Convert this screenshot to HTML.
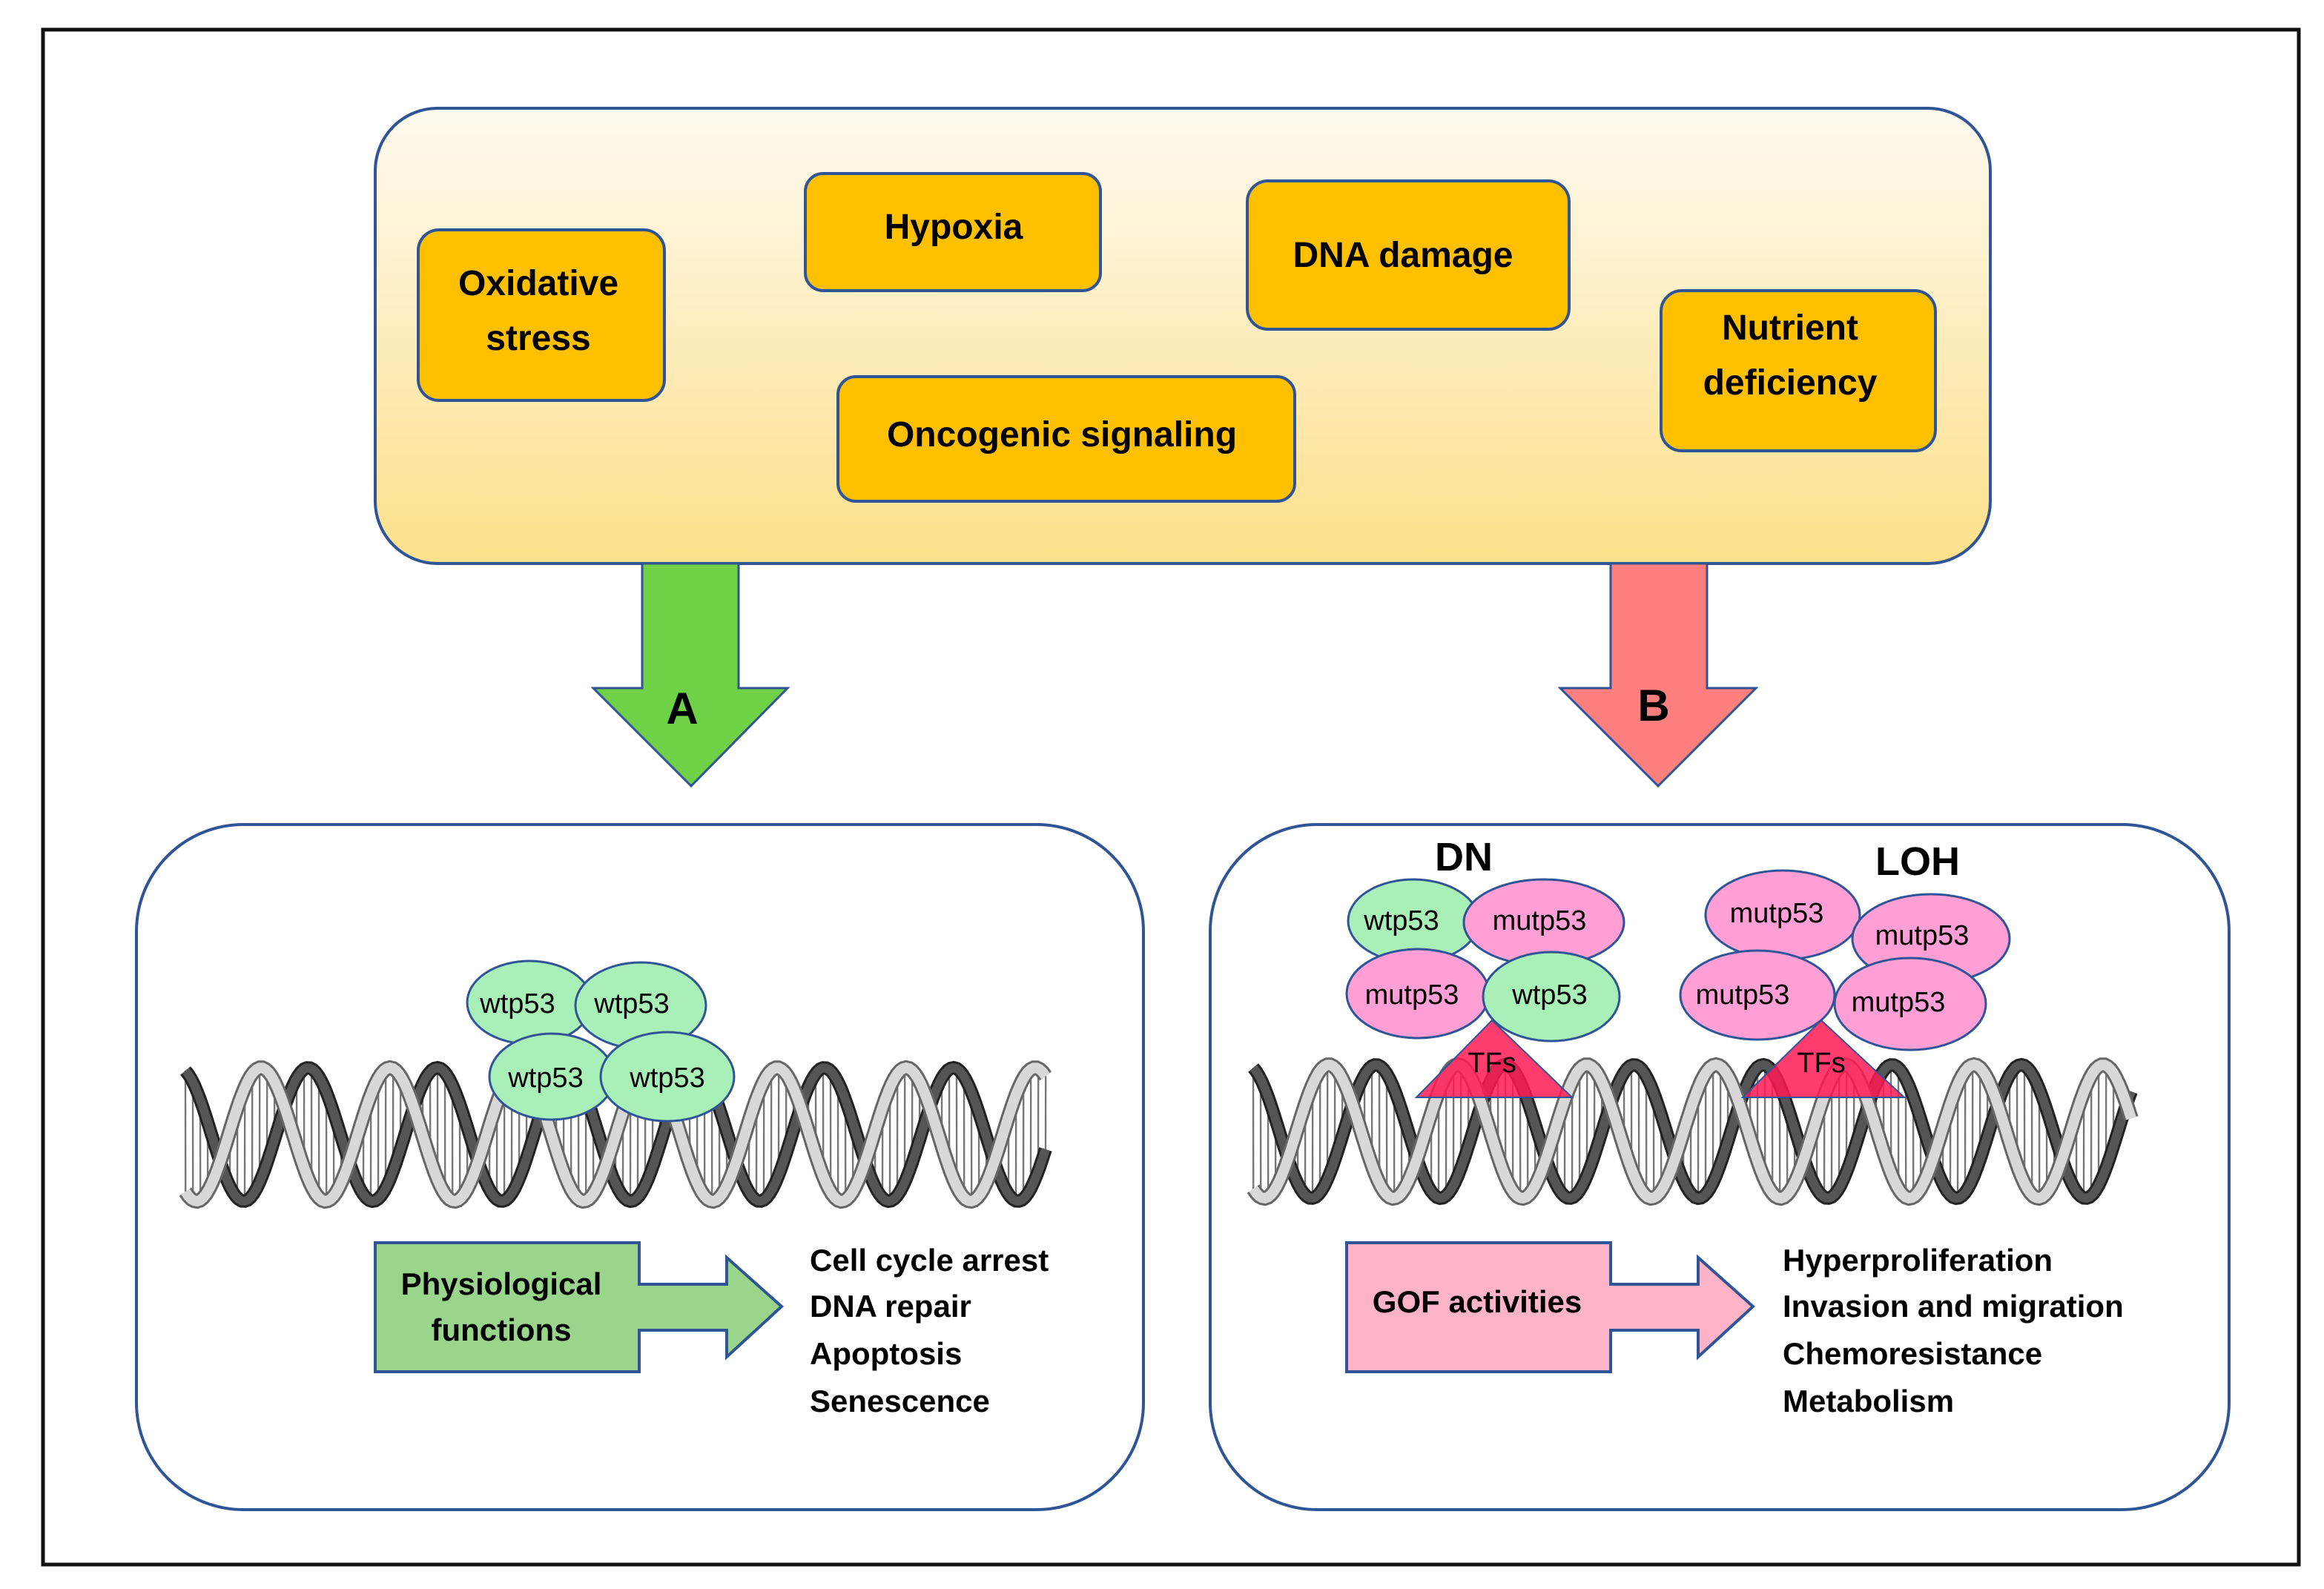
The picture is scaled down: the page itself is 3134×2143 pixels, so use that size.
<!DOCTYPE html>
<html><head><meta charset="utf-8">
<style>
html,body{margin:0;padding:0;background:#fff;}
svg{display:block;}
text{font-family:"Liberation Sans",sans-serif;font-weight:bold;fill:#000;}
.e{font-weight:normal;font-size:19px;}
</style></head>
<body>
<svg id="s" width="3134" height="2143" viewBox="0 0 1567 1071.5" xmlns="http://www.w3.org/2000/svg">
<defs>
<linearGradient id="g" x1="0" y1="0" x2="0" y2="1">
<stop offset="0" stop-color="#fffaf0"/><stop offset="1" stop-color="#fde08a"/>
</linearGradient>
</defs>
<rect x="0" y="0" width="1567" height="1072" fill="#fff"/>
<rect x="29" y="20" width="1521" height="1035" fill="none" stroke="#111" stroke-width="2.5"/>

<rect x="253" y="73" width="1089" height="307" rx="42" fill="url(#g)" stroke="#2f5597" stroke-width="2"/>
<g fill="#ffc000" stroke="#2f5597" stroke-width="2">
<rect x="282" y="155" width="166" height="115" rx="14"/>
<rect x="543" y="117" width="199" height="79" rx="12"/>
<rect x="841" y="122" width="217" height="100" rx="14"/>
<rect x="565" y="254" width="308" height="84" rx="12"/>
<rect x="1120" y="196" width="185" height="108" rx="14"/>
</g>
<g font-size="24" text-anchor="middle">
<text x="363" y="199">Oxidative</text><text x="363" y="236">stress</text>
<text x="643" y="161">Hypoxia</text>
<text x="946" y="180">DNA damage</text>
<text x="716" y="301">Oncogenic signaling</text>
<text x="1207" y="229">Nutrient</text><text x="1207" y="266">deficiency</text>
</g>

<polygon points="433,380 498,380 498,464 531,464 466,530 400,464 433,464" fill="#6fd145" stroke="#2f5597" stroke-width="1.5"/>
<polygon points="1086,380 1151,380 1151,464 1184,464 1118,530 1052,464 1086,464" fill="#ff7f7f" stroke="#2f5597" stroke-width="1.5"/>
<text x="460" y="488" font-size="30" text-anchor="middle">A</text>
<text x="1115" y="486" font-size="30" text-anchor="middle">B</text>

<rect x="92" y="556" width="679" height="462" rx="72" fill="#fff" stroke="#2f5597" stroke-width="2"/>
<rect x="816" y="556" width="687" height="462" rx="72" fill="#fff" stroke="#2f5597" stroke-width="2"/>

<g id="h1"></g>
<g id="h2"></g>

<g stroke="#2f5597" stroke-width="1.5">
<ellipse cx="357" cy="676" rx="42" ry="28" fill="#a9efb8"/>
<ellipse cx="432" cy="678" rx="44" ry="29" fill="#a9efb8"/>
<ellipse cx="372" cy="726" rx="42" ry="29" fill="#a9efb8"/>
<ellipse cx="450" cy="726" rx="45" ry="30" fill="#a9efb8"/>
</g>
<g class="e" text-anchor="middle" font-size="19">
<text class="e" x="349" y="683">wtp53</text>
<text class="e" x="426" y="683">wtp53</text>
<text class="e" x="368" y="733">wtp53</text>
<text class="e" x="450" y="733">wtp53</text>
</g>

<polygon points="955,740 1006,688 1060,740" fill="#ff1a55" fill-opacity="0.85" stroke="#2f5597" stroke-width="1"/>
<polygon points="1175,740 1228,688 1284,740" fill="#ff1a55" fill-opacity="0.85" stroke="#2f5597" stroke-width="1"/>
<g stroke="#2f5597" stroke-width="1.5">
<ellipse cx="953" cy="621" rx="44" ry="28" fill="#a9efb8"/>
<ellipse cx="1041" cy="622" rx="54" ry="29" fill="#ff9fd5"/>
<ellipse cx="956" cy="670" rx="48" ry="30" fill="#ff9fd5"/>
<ellipse cx="1046" cy="672" rx="46" ry="30" fill="#a9efb8"/>
<ellipse cx="1202" cy="617" rx="52" ry="30" fill="#ff9fd5"/>
<ellipse cx="1302" cy="633" rx="53" ry="30" fill="#ff9fd5"/>
<ellipse cx="1185" cy="671" rx="52" ry="30" fill="#ff9fd5"/>
<ellipse cx="1288" cy="677" rx="51" ry="31" fill="#ff9fd5"/>
</g>
<g text-anchor="middle">
<text class="e" x="945" y="627">wtp53</text>
<text class="e" x="1038" y="627">mutp53</text>
<text class="e" x="952" y="677">mutp53</text>
<text class="e" x="1045" y="677">wtp53</text>
<text class="e" x="1198" y="622">mutp53</text>
<text class="e" x="1296" y="637">mutp53</text>
<text class="e" x="1175" y="677">mutp53</text>
<text class="e" x="1280" y="682">mutp53</text>
<text class="e" x="1006" y="723">TFs</text>
<text class="e" x="1228" y="723">TFs</text>
<text x="987" y="587" font-size="27">DN</text>
<text x="1293" y="590" font-size="27">LOH</text>
</g>

<polygon points="253,838 431,838 431,866 490,866 490,848 527,881 490,915 490,897 431,897 431,925 253,925" fill="#99d68c" stroke="#2f5597" stroke-width="2"/>
<polygon points="908,838 1086,838 1086,866 1145,866 1145,848 1182,881 1145,915 1145,897 1086,897 1086,925 908,925" fill="#ffb3c6" stroke="#2f5597" stroke-width="2"/>
<g font-size="21">
<text x="338" y="873" text-anchor="middle">Physiological</text>
<text x="338" y="904" text-anchor="middle">functions</text>
<text x="996" y="885" text-anchor="middle">GOF activities</text>
<text x="546" y="857">Cell cycle arrest</text>
<text x="546" y="888">DNA repair</text>
<text x="546" y="920">Apoptosis</text>
<text x="546" y="952">Senescence</text>
<text x="1202" y="857">Hyperproliferation</text>
<text x="1202" y="888">Invasion and migration</text>
<text x="1202" y="920">Chemoresistance</text>
<text x="1202" y="952">Metabolism</text>
</g>
</svg>
<script>
function helix(id,x0,x1,yc,amp,per){
 var g=document.getElementById(id),ns="http://www.w3.org/2000/svg",out="";
 function path(ph){var d="";for(var x=x0;x<=x1;x+=2){var y=yc-amp*Math.cos((x-x0)/per*2*Math.PI+ph);d+=(x==x0?"M":"L")+x+","+y.toFixed(1);}return d;}
 var lines="";
 for(var x=x0;x<=x1;x+=5){var a=yc-amp*Math.cos((x-x0)/per*2*Math.PI+0.3),b=yc-amp*Math.cos((x-x0)/per*2*Math.PI+2.6);lines+="M"+x+","+a.toFixed(1)+"L"+(x+0.1)+","+b.toFixed(1);}
 out+='<path d="'+lines+'" stroke="#777" stroke-width="1.2" fill="none"/>';
 out+='<path d="'+path(0.3)+'" stroke="#222" stroke-width="9" fill="none"/>';
 out+='<path d="'+path(0.3)+'" stroke="#555" stroke-width="6" fill="none"/>';
 out+='<path d="'+path(2.6)+'" stroke="#666" stroke-width="10" fill="none"/>';
 out+='<path d="'+path(2.6)+'" stroke="#d8d8d8" stroke-width="7" fill="none"/>';
 g.innerHTML=out;
}
helix("h1",125,705,765,45,87);
helix("h2",845,1437,763,45,87);
</script>
</body></html>
